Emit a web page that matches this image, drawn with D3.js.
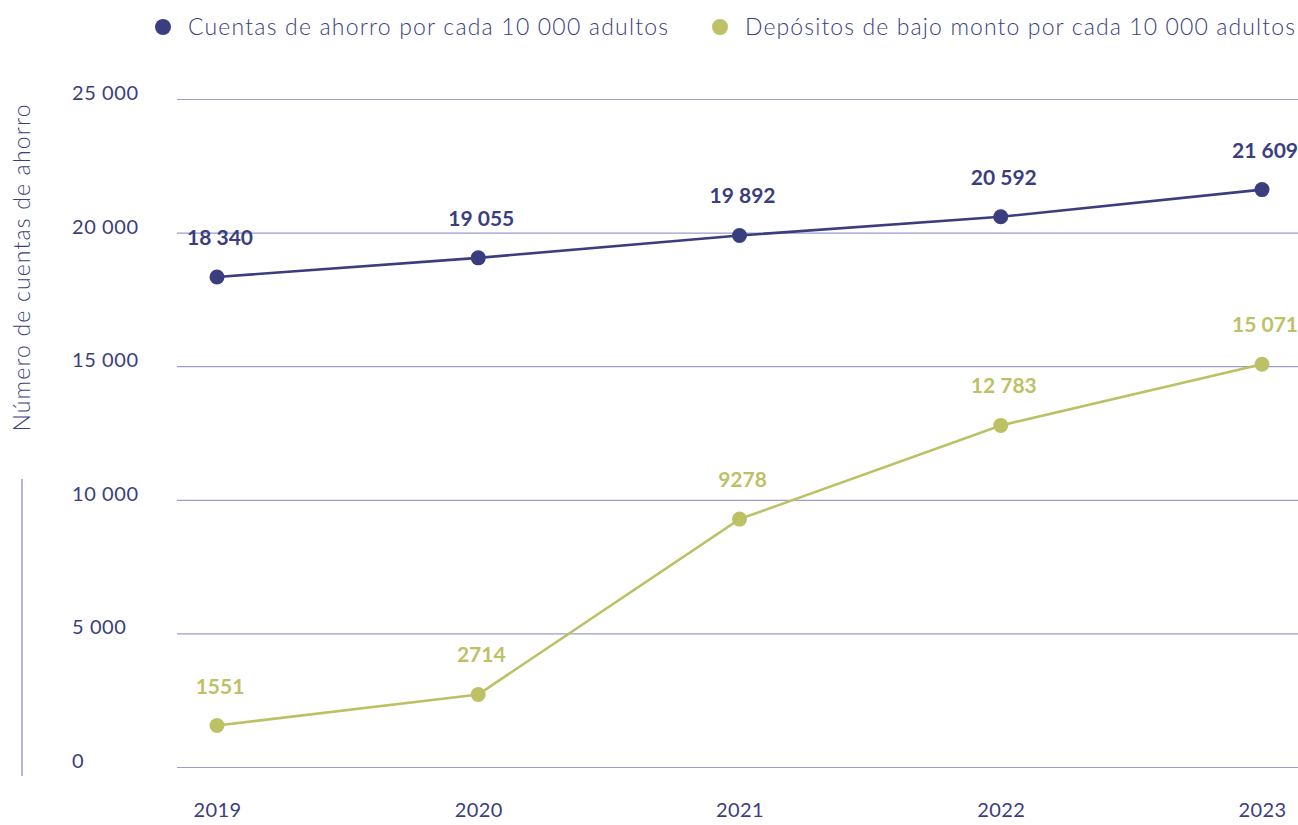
<!DOCTYPE html>
<html><head><meta charset="utf-8">
<script src="https://cdn.jsdelivr.net/npm/d3@7"></script>
<style>
html,body{margin:0;padding:0;background:#fff;}
svg{display:block;font-family:"Lato","Open Sans",sans-serif;}
</style></head>
<body><svg id="c" width="1298" height="825"></svg>
<script>
const years = ["2019","2020","2021","2022","2023"];
const cuentas = [18340, 19055, 19892, 20592, 21609];
const depositos = [1551, 2714, 9278, 12783, 15071];
const yTicks = [0, 5000, 10000, 15000, 20000, 25000];
const seriesNames = ["Cuentas de ahorro por cada 10 000 adultos", "Depósitos de bajo monto por cada 10 000 adultos"];
const seriesColors = ["#3a3e7e", "#bdc165"];
const yTitle = "Número de cuentas de ahorro";

const svg = d3.select("#c");
const navy = "#3a3e7e", grid = "#9c9ec9";
const x = d3.scalePoint().domain(years).range([217, 1262]);
const y = d3.scaleLinear().domain([0, 25000]).range([767, 99]);
const sp = v => d3.format(",")(v).replace(/,/g, " ");
const fmt = v => v >= 10000 ? sp(v) : String(v);

// gridlines
const yAxis = d3.axisLeft(y).tickValues(yTicks).tickSize(-(1298 - 177)).tickFormat(sp);
const gy = svg.append("g").attr("transform", "translate(177,0)").call(yAxis);
gy.select(".domain").remove();
gy.selectAll(".tick line").attr("stroke", grid).attr("stroke-width", 1.2);
gy.selectAll(".tick text").attr("x", 72 - 177).attr("dy", "0.32em").attr("text-anchor", "start")
  .attr("fill", navy).style("font-size", "20px").style("font-family", "Lato").style("font-weight", 400)
  .style("letter-spacing", "0.6px")
  .attr("transform", "translate(0,-6)");

// x axis
const xAxis = d3.axisBottom(x).tickSize(0).tickPadding(0);
const gx = svg.append("g").attr("transform", "translate(0,810)").call(xAxis);
gx.select(".domain").remove();
gx.selectAll(".tick text").attr("dy", "0.35em").attr("fill", navy)
  .style("font-size", "20px").style("font-family", "Lato").style("letter-spacing", "0.4px");

// y title
svg.append("text").attr("transform", "translate(30,268) rotate(-90)").attr("text-anchor", "middle")
  .attr("fill", navy).style("font-size", "23px").style("font-weight", 300)
  .attr("textLength", 327).attr("lengthAdjust", "spacing").text(yTitle);
svg.append("line").attr("x1", 22).attr("x2", 22).attr("y1", 479).attr("y2", 776)
  .attr("stroke", grid).attr("stroke-width", 1.5);

const series = [cuentas, depositos];
const line = d3.line().x((d, i) => x(years[i])).y(d => y(d));
series.forEach((vals, si) => {
  const col = seriesColors[si];
  svg.append("path").datum(vals).attr("d", line).attr("fill", "none")
    .attr("stroke", col).attr("stroke-width", 2.6);
  svg.selectAll(null).data(vals).enter().append("circle")
    .attr("cx", (d, i) => x(years[i])).attr("cy", d => y(d)).attr("r", 7.5).attr("fill", col);
  svg.selectAll(null).data(vals).enter().append("text")
    .attr("x", (d, i) => x(years[i]) + 3).attr("y", d => y(d) - 32)
    .attr("text-anchor", "middle").attr("fill", col)
    .style("font-size", "21px").style("font-weight", 700).text(d => fmt(d));
});

// legend
const lx = [163, 720];
const lw = [480, 550];
seriesNames.forEach((n, i) => {
  svg.append("circle").attr("cx", lx[i]).attr("cy", 27).attr("r", 8).attr("fill", seriesColors[i]);
  svg.append("text").attr("x", lx[i] + 25).attr("y", 27).attr("dy", "0.35em")
    .attr("fill", navy).style("font-size", "23px").style("font-weight", 300)
    .attr("textLength", lw[i]).attr("lengthAdjust", "spacing").text(n);
});
</script></body></html>
